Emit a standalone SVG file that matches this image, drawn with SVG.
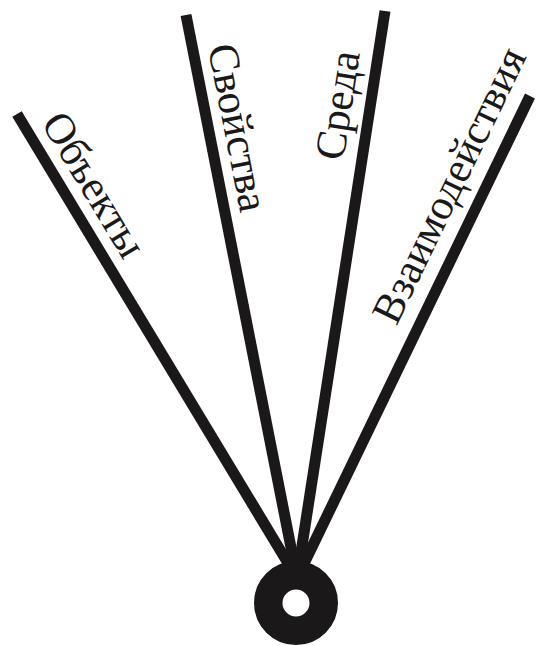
<svg xmlns="http://www.w3.org/2000/svg" width="536" height="646" viewBox="0 0 536 646">
<style>
.ray{stroke:#1a1818;stroke-width:11;stroke-linecap:butt;fill:none}
.lbl{font-family:"Liberation Serif","Times New Roman",serif;font-size:43px;fill:#1a1818}
</style>
<rect width="536" height="646" fill="#fff"/>
<g id="connectors">
<line class="ray" x1="17" y1="114" x2="297" y2="578"/>
<line class="ray" x1="186" y1="15" x2="297" y2="578"/>
<line class="ray" x1="385" y1="11" x2="297" y2="578"/>
<line class="ray" x1="530" y1="96" x2="297" y2="578"/>
</g>
<g id="hub">
<circle cx="296" cy="603" r="27.75" fill="none" stroke="#1a1818" stroke-width="28.5"/>
</g>
<g id="objects">
<text class="lbl" transform="translate(40.5,123) rotate(58.9)">Объекты</text>
</g>
<g id="properties">
<text class="lbl" transform="translate(207.7,47) rotate(78.85)">Свойства</text>
</g>
<g id="environment">
<text class="lbl" transform="translate(343.2,161.5) rotate(-81.2)">Среда</text>
</g>
<g id="interactions">
<text class="lbl" transform="translate(396.5,326.5) rotate(-64.2)">Взаимодействия</text>
</g>
</svg>
